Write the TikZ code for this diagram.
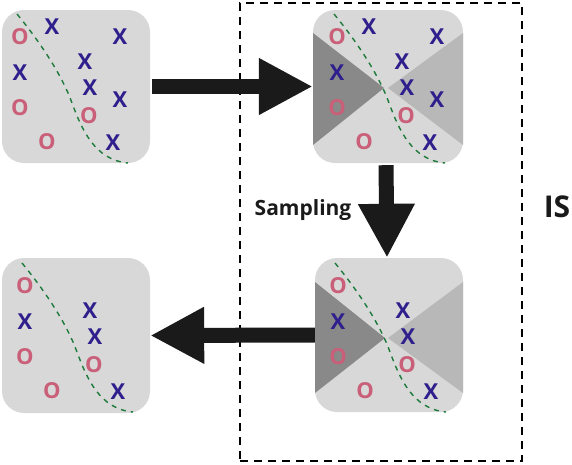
\documentclass[tikz,border=0pt]{standalone}
\usepackage{fontspec}
\setmainfont{Open Sans}
\usepackage{tikz}
\usetikzlibrary{
  arrows.meta,
  positioning
}
\definecolor{panelgray}{HTML}{D8D8D8}
\definecolor{wedgedark}{HTML}{898989}
\definecolor{wedgelight}{HTML}{B8B8B8}
\definecolor{xblue}{HTML}{2E1F8C}
\definecolor{opink}{HTML}{C95F78}
\definecolor{bordergreen}{HTML}{1D7A3A}
\definecolor{arrowblack}{HTML}{1A1A1A}
\tikzset{
  panel/.style={fill=panelgray, rounded corners=22pt, inner sep=0pt},
  xmark/.style={text=xblue, font=\fontsize{22}{22}\selectfont\bfseries, inner sep=0pt},
  omark/.style={text=opink, font=\fontsize{22}{22}\selectfont\bfseries, inner sep=0pt},
  boundary/.style={draw=bordergreen, line width=1.4pt, dash pattern=on 5pt off 5pt},
  bigarr/.style={-{Triangle[length=54pt, width=53pt]}, line width=15pt, draw=arrowblack},
  isframe/.style={draw, line width=1.3pt, dash pattern=on 8pt off 6pt, inner sep=0pt},
  lbl/.style={text=arrowblack, font=\bfseries, inner sep=0pt},
}
% points and class boundary, in the frame of the first panel
\newcommand{\classline}{%
  \draw[boundary] (17,14) .. controls (40,42) and (62,75) .. (72,103)
    .. controls (82,130) and (95,160) .. (128,163);}
\newcommand{\keptpoints}{%
  \node[omark] at (20,37) {O};
  \node[xmark] at (20,73) {X};
  \node[omark] at (20,108) {O};
  \node[xmark] at (85,62) {X};
  \node[xmark] at (90,88) {X};
  \node[omark] at (89,116) {O};
  \node[omark] at (47,142) {O};
  \node[xmark] at (113,143) {X};}
\newcommand{\droppedpoints}{%
  \node[xmark] at (52,27) {X};
  \node[xmark] at (120,37) {X};
  \node[xmark] at (120,100) {X};}

\begin{document}
\begin{tikzpicture}[x=1pt, y=-1pt]
  \useasboundingbox (0,0) rectangle (572,464);

  % IS frame
  \node[isframe, minimum width=282, minimum height=458] (isbox) at (381,232) {};

  % panels
  \node[panel, minimum width=148, minimum height=153] (raw) at (76,86.5) {};
  \node[panel, minimum width=150, minimum height=153] (split) at (388,86.5) {};
  \node[panel, minimum width=148, minimum height=154] (sampled) at (389,335) {};
  \node[panel, minimum width=148, minimum height=155] (reduced) at (76,335.5) {};

  % partition wedges
  \fill[wedgedark] (313,33) -- (313,145) -- (384,88) -- cycle;
  \fill[wedgelight] (463,33) -- (463,145) -- (388,88) -- cycle;
  \fill[wedgedark] (315,282) -- (315,393) -- (385,338) -- cycle;
  \fill[wedgelight] (463,282) -- (463,393) -- (388,338) -- cycle;

  % data points
  \classline \keptpoints \droppedpoints
  \begin{scope}[shift={(317,0)}]
    \classline \keptpoints \droppedpoints
  \end{scope}
  \begin{scope}[shift={(318,249)}]
    \classline \keptpoints
  \end{scope}
  \begin{scope}[shift={(5,249)}]
    \classline \keptpoints
  \end{scope}

  % flow
  \draw[bigarr, shorten <=2pt] (raw.east) -- (split.west);
  \draw[bigarr, shorten <=2pt] ([xshift=-2pt]split.south) -- ([xshift=-2pt]sampled.north);
  \draw[bigarr] (sampled.west) -- (reduced.east);

  % labels
  \node[lbl, font=\fontsize{21}{21}\selectfont\bfseries] (samplbl) at (303,210) {Sampling};
  \node[lbl, font=\fontsize{30}{30}\selectfont\bfseries] (islbl) at (557,207) {IS};
\end{tikzpicture}
\end{document}
